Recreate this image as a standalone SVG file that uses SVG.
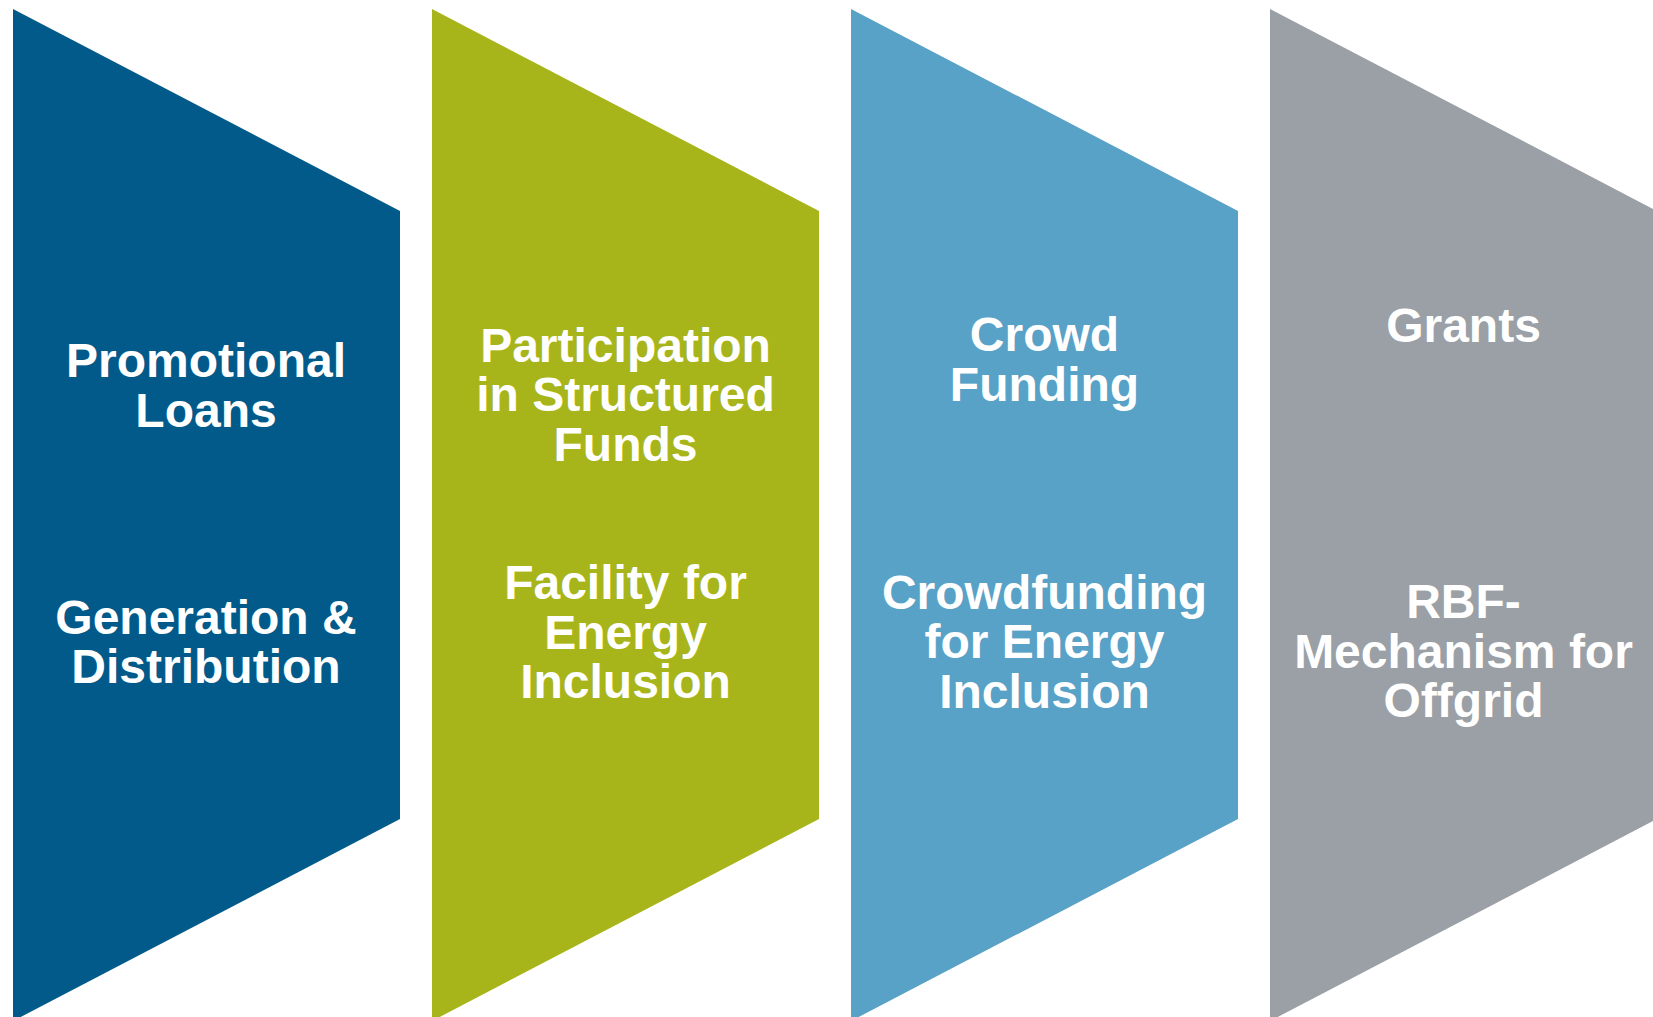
<svg xmlns="http://www.w3.org/2000/svg" width="1653" height="1017" viewBox="0 0 1653 1017">
<style>
.t{font-family:"Liberation Sans",Arial,sans-serif;font-weight:bold;font-size:48px;fill:#ffffff;text-anchor:middle}
</style>
<rect width="1653" height="1017" fill="#ffffff"/>
<g id="node-promotional-loans">
<polygon points="13,9 400,211 400,819 13,1021" fill="#015A8A"/>
<text class="t" x="206" y="377">Promotional</text>
<text class="t" x="206" y="426.5">Loans</text>
<text class="t" x="206" y="634">Generation &amp;</text>
<text class="t" x="206" y="682.5">Distribution</text>
</g>
<g id="node-structured-funds">
<polygon points="432,9 819,211 819,819 432,1021" fill="#A7B51A"/>
<text class="t" x="625.5" y="361.5">Participation</text>
<text class="t" x="625.5" y="411">in Structured</text>
<text class="t" x="625.5" y="460.5">Funds</text>
<text class="t" x="625.5" y="599">Facility for</text>
<text class="t" x="625.5" y="648.5">Energy</text>
<text class="t" x="625.5" y="698">Inclusion</text>
</g>
<g id="node-crowd-funding">
<polygon points="851,9 1238,211 1238,819 851,1021" fill="#58A1C7"/>
<text class="t" x="1044.5" y="351">Crowd</text>
<text class="t" x="1044.5" y="401">Funding</text>
<text class="t" x="1044.5" y="608.5">Crowdfunding</text>
<text class="t" x="1044.5" y="658">for Energy</text>
<text class="t" x="1044.5" y="707.5">Inclusion</text>
</g>
<g id="node-grants">
<polygon points="1270,9 1657,211 1657,819 1270,1021" fill="#9AA0A6"/>
<text class="t" x="1463.5" y="341.5">Grants</text>
<text class="t" x="1463.5" y="618">RBF-</text>
<text class="t" x="1463.5" y="667.5">Mechanism for</text>
<text class="t" x="1463.5" y="717">Offgrid</text>
</g>
<g id="connectors"></g>
</svg>
